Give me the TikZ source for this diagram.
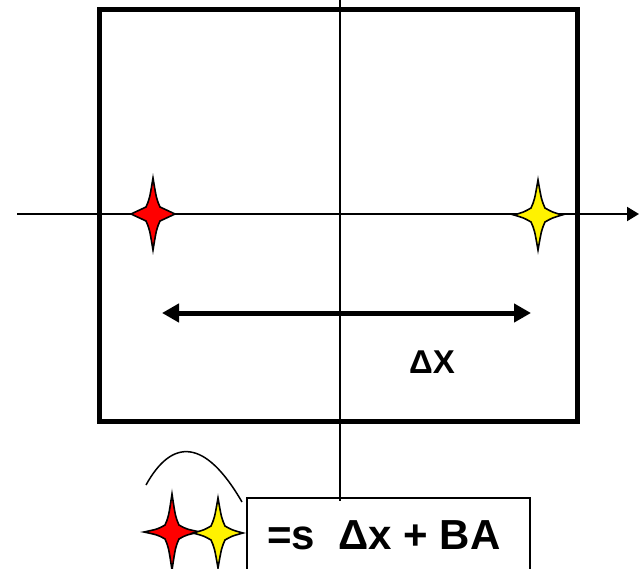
\documentclass[tikz,border=0pt]{standalone}
\usepackage{fontspec}
\setmainfont{Liberation Sans}
\usetikzlibrary{arrows.meta}
\tikzset{
  fourstar/.pic={
    \draw[line width=1.6pt, miter limit=10, fill=\pgfkeysvalueof{/tikz/starfill}]
      (0,-\pgfkeysvalueof{/tikz/stary}) .. controls (3.5,-15) .. (7,-7)
      .. controls (14,-3) .. (\pgfkeysvalueof{/tikz/starx},0)
      .. controls (14,3) .. (7,7)
      .. controls (3.5,15) .. (0,\pgfkeysvalueof{/tikz/stary})
      .. controls (-3.5,15) .. (-7,7)
      .. controls (-14,3) .. (-\pgfkeysvalueof{/tikz/starx},0)
      .. controls (-14,-3) .. (-7,-7)
      .. controls (-3.5,-15) .. cycle;
  },
  starfill/.initial=red,
  starx/.initial=22,
  stary/.initial=36,
  axisline/.style={line width=2pt},
  formulabox/.style={draw, line width=1.5pt, minimum width=283pt, minimum height=72pt, inner sep=0pt},
}
\begin{document}
\begin{tikzpicture}[x=1pt,y=-1pt]
\useasboundingbox (0,0) rectangle (639,569);
% square
\draw[line width=5pt] (99,10) rectangle (577,421);
% axes
\coordinate (axL) at (17,214);
\coordinate (axR) at (639,214);
\coordinate (vT) at (340,0);
\coordinate (vB) at (340,501);
\draw[axisline, -{Triangle[length=12pt,width=14pt]}] (axL) -- (axR);
% formula box
\node[formulabox, anchor=north west] (fbox) at (246,497) {};
\node[font=\bfseries\fontsize{42}{46}\selectfont, anchor=base] (ftext) at (384,549) {=s\ \ Δx + BA};
\draw[axisline] (vT) -- (vB);
% stars on axis
\pic[starfill=red, starx=22, stary=36] at (153,214) {fourstar};
\pic[starfill=yellow, starx=24, stary=35] at (538,215) {fourstar};
% double arrow
\coordinate (dL) at (162,313);
\coordinate (dR) at (531,313);
\draw[line width=5pt, {Triangle[length=17pt,width=18pt]}-{Triangle[length=17pt,width=18pt]}] (dL) -- (dR);
\node[font=\bfseries\fontsize{33}{36}\selectfont, anchor=base] (dx) at (432,373) {ΔX};
% bottom curve and stars
\coordinate (cA) at (146,485);
\coordinate (cB) at (242,502);
\draw[line width=1.5pt] (cA) .. controls (172,438) and (205,438) .. (cB);
\pic[starfill=red, starx=28, stary=38] at (172,532) {fourstar};
\pic[starfill=yellow, starx=25, stary=35] at (218,533) {fourstar};
\end{tikzpicture}
\end{document}
